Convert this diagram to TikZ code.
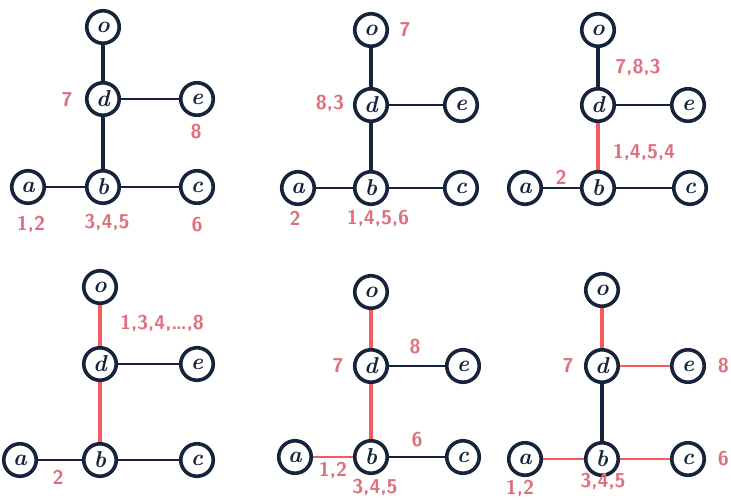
\documentclass[tikz,border=0pt]{standalone}
\usepackage{tikz}
\definecolor{ink}{HTML}{15233B}
\definecolor{note}{HTML}{E06F7E}
\definecolor{hot}{HTML}{F25C5C}
\begin{document}
\begin{tikzpicture}[x=1pt,y=-1pt,
  vtx/.style={circle,draw=ink,line width=3.6pt,fill=white,minimum size=32.5pt,inner sep=0pt,
    font=\fontsize{23}{23}\selectfont\bfseries\itshape,text=ink},
  stem/.style={draw=ink,line width=3.8pt},
  twig/.style={draw=ink,line width=2.2pt},
  hotstem/.style={draw=hot,line width=3.8pt},
  hottwig/.style={draw=hot,line width=2.2pt},
  lab/.style={text=note,font=\fontsize{20}{20}\selectfont\sffamily\bfseries,inner sep=0pt}]
\useasboundingbox[fill=white] (0,0) rectangle (731,499);

% panel 1
\begin{scope}[name prefix=p1-]
  \node[vtx] (o) at (103,27) {o};
  \node[vtx] (d) at (103,99) {d};
  \node[vtx] (e) at (197,99) {e};
  \node[vtx] (a) at (28,187) {a};
  \node[vtx] (b) at (103,187) {b};
  \node[vtx] (c) at (197,187) {c};
  \draw[stem] (o) -- (d);
  \draw[stem] (d) -- (b);
  \draw[twig] (d) -- (e);
  \draw[twig] (a) -- (b);
  \draw[twig] (b) -- (c);
  \node[lab] (l1) at (67,100) {7};
  \node[lab] (l2) at (196,132) {8};
  \node[lab] (l3) at (31,224) {1,2};
  \node[lab] (l4) at (107,222) {3,4,5};
  \node[lab] (l5) at (197,225) {6};
\end{scope}

% panel 2
\begin{scope}[name prefix=p2-]
  \node[vtx] (o) at (371,30) {o};
  \node[vtx] (d) at (371,105) {d};
  \node[vtx] (e) at (461,105) {e};
  \node[vtx] (a) at (298,188) {a};
  \node[vtx] (b) at (371,188) {b};
  \node[vtx] (c) at (461,188) {c};
  \draw[stem] (o) -- (d);
  \draw[stem] (d) -- (b);
  \draw[twig] (d) -- (e);
  \draw[twig] (a) -- (b);
  \draw[twig] (b) -- (c);
  \node[lab] (l1) at (405,30) {7};
  \node[lab] (l2) at (330,103) {8,3};
  \node[lab] (l3) at (295,218) {2};
  \node[lab] (l4) at (378,218) {1,4,5,6};
\end{scope}

% panel 3
\begin{scope}[name prefix=p3-]
  \node[vtx] (o) at (598,30) {o};
  \node[vtx] (d) at (598,105) {d};
  \node[vtx] (e) at (688,105) {e};
  \node[vtx] (a) at (525,188) {a};
  \node[vtx] (b) at (598,188) {b};
  \node[vtx] (c) at (690,188) {c};
  \draw[stem] (o) -- (d);
  \draw[hotstem] (d) -- (b);
  \draw[twig] (d) -- (e);
  \draw[twig] (a) -- (b);
  \draw[twig] (b) -- (c);
  \node[lab] (l1) at (638,67) {7,8,3};
  \node[lab] (l2) at (644,152) {1,4,5,4};
  \node[lab] (l3) at (561,177) {2};
\end{scope}

% panel 4
\begin{scope}[name prefix=p4-]
  \node[vtx] (o) at (100,287) {o};
  \node[vtx] (d) at (100,364) {d};
  \node[vtx] (e) at (197,364) {e};
  \node[vtx] (a) at (20,460) {a};
  \node[vtx] (b) at (100,460) {b};
  \node[vtx] (c) at (197,460) {c};
  \draw[hotstem] (o) -- (d);
  \draw[hotstem] (d) -- (b);
  \draw[twig] (d) -- (e);
  \draw[twig] (a) -- (b);
  \draw[twig] (b) -- (c);
  \node[lab] (l1) at (162,323) {1,3,4,\dots,8};
  \node[lab] (l2) at (58,477) {2};
\end{scope}

% panel 5
\begin{scope}[name prefix=p5-]
  \node[vtx] (o) at (371,292) {o};
  \node[vtx] (d) at (371,366) {d};
  \node[vtx] (e) at (463,366) {e};
  \node[vtx] (a) at (295,457) {a};
  \node[vtx] (b) at (371,457) {b};
  \node[vtx] (c) at (463,457) {c};
  \draw[hotstem] (o) -- (d);
  \draw[hotstem] (d) -- (b);
  \draw[twig] (d) -- (e);
  \draw[hottwig] (a) -- (b);
  \draw[twig] (b) -- (c);
  \node[lab] (l1) at (338,366) {7};
  \node[lab] (l2) at (415,347) {8};
  \node[lab] (l3) at (417,440) {6};
  \node[lab] (l4) at (333,470) {1,2};
  \node[lab] (l5) at (375,487) {3,4,5};
\end{scope}

% panel 6
\begin{scope}[name prefix=p6-]
  \node[vtx] (o) at (602,290) {o};
  \node[vtx] (d) at (602,366) {d};
  \node[vtx] (e) at (688,366) {e};
  \node[vtx] (a) at (525,459) {a};
  \node[vtx] (b) at (602,459) {b};
  \node[vtx] (c) at (688,459) {c};
  \draw[hotstem] (o) -- (d);
  \draw[stem] (d) -- (b);
  \draw[hottwig] (d) -- (e);
  \draw[hottwig] (a) -- (b);
  \draw[hottwig] (b) -- (c);
  \node[lab] (l1) at (568,366) {7};
  \node[lab,anchor=east] (l2) at (729,366) {8};
  \node[lab,anchor=east] (l3) at (729,459) {6};
  \node[lab] (l4) at (520,488) {1,2};
  \node[lab] (l5) at (603,481) {3,4,5};
\end{scope}
\end{tikzpicture}
\end{document}
